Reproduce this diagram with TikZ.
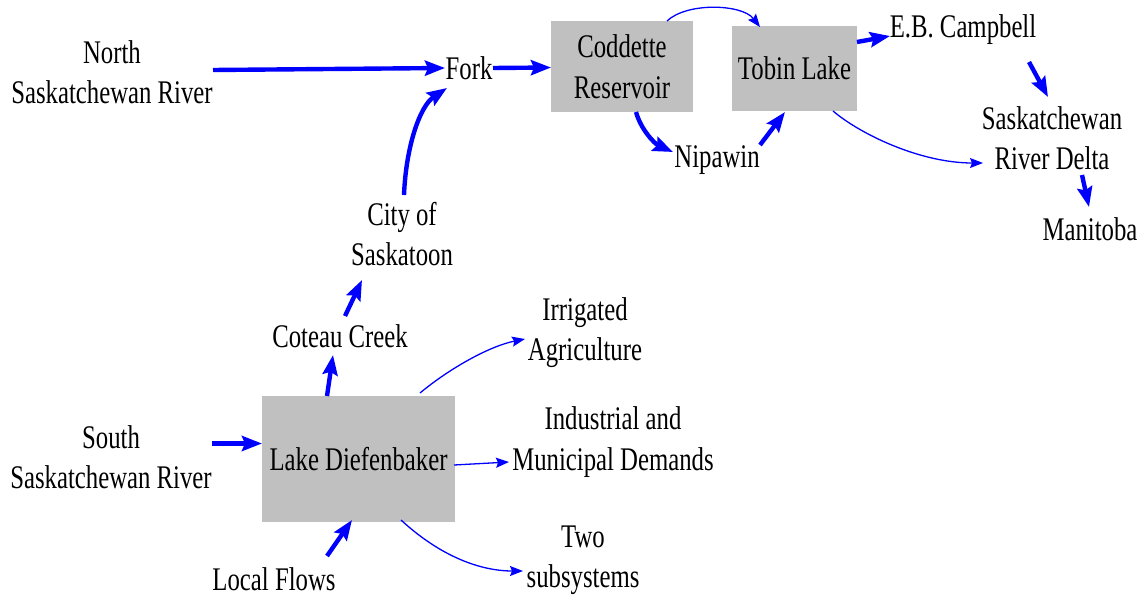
\documentclass[tikz,border=0pt]{standalone}
\usepackage{fontspec}
\setmainfont{Liberation Serif}[FakeStretch=0.75]
\usetikzlibrary{arrows.meta}
\definecolor{flow}{RGB}{0,0,255}
\definecolor{boxgray}{RGB}{192,192,192}
\tikzset{
  lbl/.style={inner sep=0pt, align=center, font=\fontsize{16.5pt}{20.25pt}\selectfont},
  store/.style={lbl, fill=boxgray, draw=none},
  thk/.style={draw=flow, line width=2.2pt, -{Stealth[length=10pt,width=7.5pt,inset=1.5pt]}},
  thn/.style={draw=flow, line width=0.65pt, -{Stealth[length=6.5pt,width=5pt,inset=1pt]}}
}
\begin{document}
\begin{tikzpicture}[x=0.5pt,y=0.5pt]
\useasboundingbox (0,0) rectangle (1144,596);

% places
\node[lbl] (nsr) at (112,524) {North\\Saskatchewan River};
\node[lbl] (fork) at (469,528) {Fork};
\node[store, minimum width=71pt, minimum height=45.5pt] (cod) at (622,529.5) {Coddette\\Reservoir};
\node[store, minimum width=62.5pt, minimum height=42.5pt] (tob) at (794.5,527.5) {Tobin Lake};
\node[lbl] (nip) at (717,436) {Nipawin};
\node[lbl] (ebc) at (963,566) {E.B. Campbell};
\node[lbl] (delta) at (1052,458) {Saskatchewan\\River Delta};
\node[lbl] (man) at (1090,367) {Manitoba};
\node[lbl] (city) at (402,362) {City of\\Saskatoon};
\node[lbl] (cot) at (340,260) {Coteau Creek};
\node[store, minimum width=96.5pt, minimum height=63pt] (lake) at (358.5,137) {Lake Diefenbaker};
\node[lbl] (ssr) at (111,139) {South\\Saskatchewan River};
\node[lbl] (local) at (274,17) {Local Flows};
\node[lbl] (irr) at (585,263.5) {Irrigated\\Agriculture};
\node[lbl] (ind) at (613,154) {Industrial and\\Municipal Demands};
\node[lbl] (two) at (583,36) {Two\\subsystems};

% main stem
\draw[thk] ([shift={(101,2)}]nsr.center) -- ([shift={(-24,0)}]fork.center);
\draw[thk] ([shift={(24,0)}]fork.center) -- ([shift={(-71,-1)}]cod.center);
\draw[thn] ([shift={(45,45.5)}]cod.center) .. controls (687,594) and (742,592) .. ([shift={(-34.5,41.5)}]tob.center);
\draw[thk] ([shift={(14,-45.5)}]cod.center) .. controls (641,466) and (655,452) .. ([shift={(-44,8)}]nip.center);
\draw[thk] ([shift={(43,15)}]nip.center) -- ([shift={(-9.5,-43.5)}]tob.center);
\draw[thk] ([shift={(62.5,26.5)}]tob.center) -- ([shift={(-73,-6)}]ebc.center);
\draw[thk] ([shift={(66,-32)}]ebc.center) -- ([shift={(-4,41)}]delta.center);
\draw[thn] ([shift={(38.5,-42.5)}]tob.center) .. controls (860,462) and (920,433) .. ([shift={(-69,-25)}]delta.center);
\draw[thk] ([shift={(30,-37)}]delta.center) -- ([shift={(-1,22)}]man.center);

% south branch
\draw[thk] ([shift={(2,39)}]city.center) .. controls (406,450) and (420,490) .. ([shift={(-22,-20)}]fork.center);
\draw[thk] ([shift={(5,20)}]cot.center) -- ([shift={(-40,-46)}]city.center);
\draw[thk] ([shift={(-31.5,63)}]lake.center) -- ([shift={(-7,-19)}]cot.center);
\draw[thk] ([shift={(101,13.5)}]ssr.center) -- ([shift={(-96.5,15.5)}]lake.center);
\draw[thk] ([shift={(53,23)}]local.center) -- ([shift={(-6.5,-61)}]lake.center);

% withdrawals
\draw[thn] ([shift={(61.5,66)}]lake.center) .. controls (450,228) and (490,250) .. ([shift={(-60,-6.5)}]irr.center);
\draw[thn] ([shift={(95.5,-6)}]lake.center) -- ([shift={(-104,-20)}]ind.center);
\draw[thn] ([shift={(42.5,-61)}]lake.center) .. controls (440,40) and (480,25) .. ([shift={(-60,-11)}]two.center);
\end{tikzpicture}
\end{document}
